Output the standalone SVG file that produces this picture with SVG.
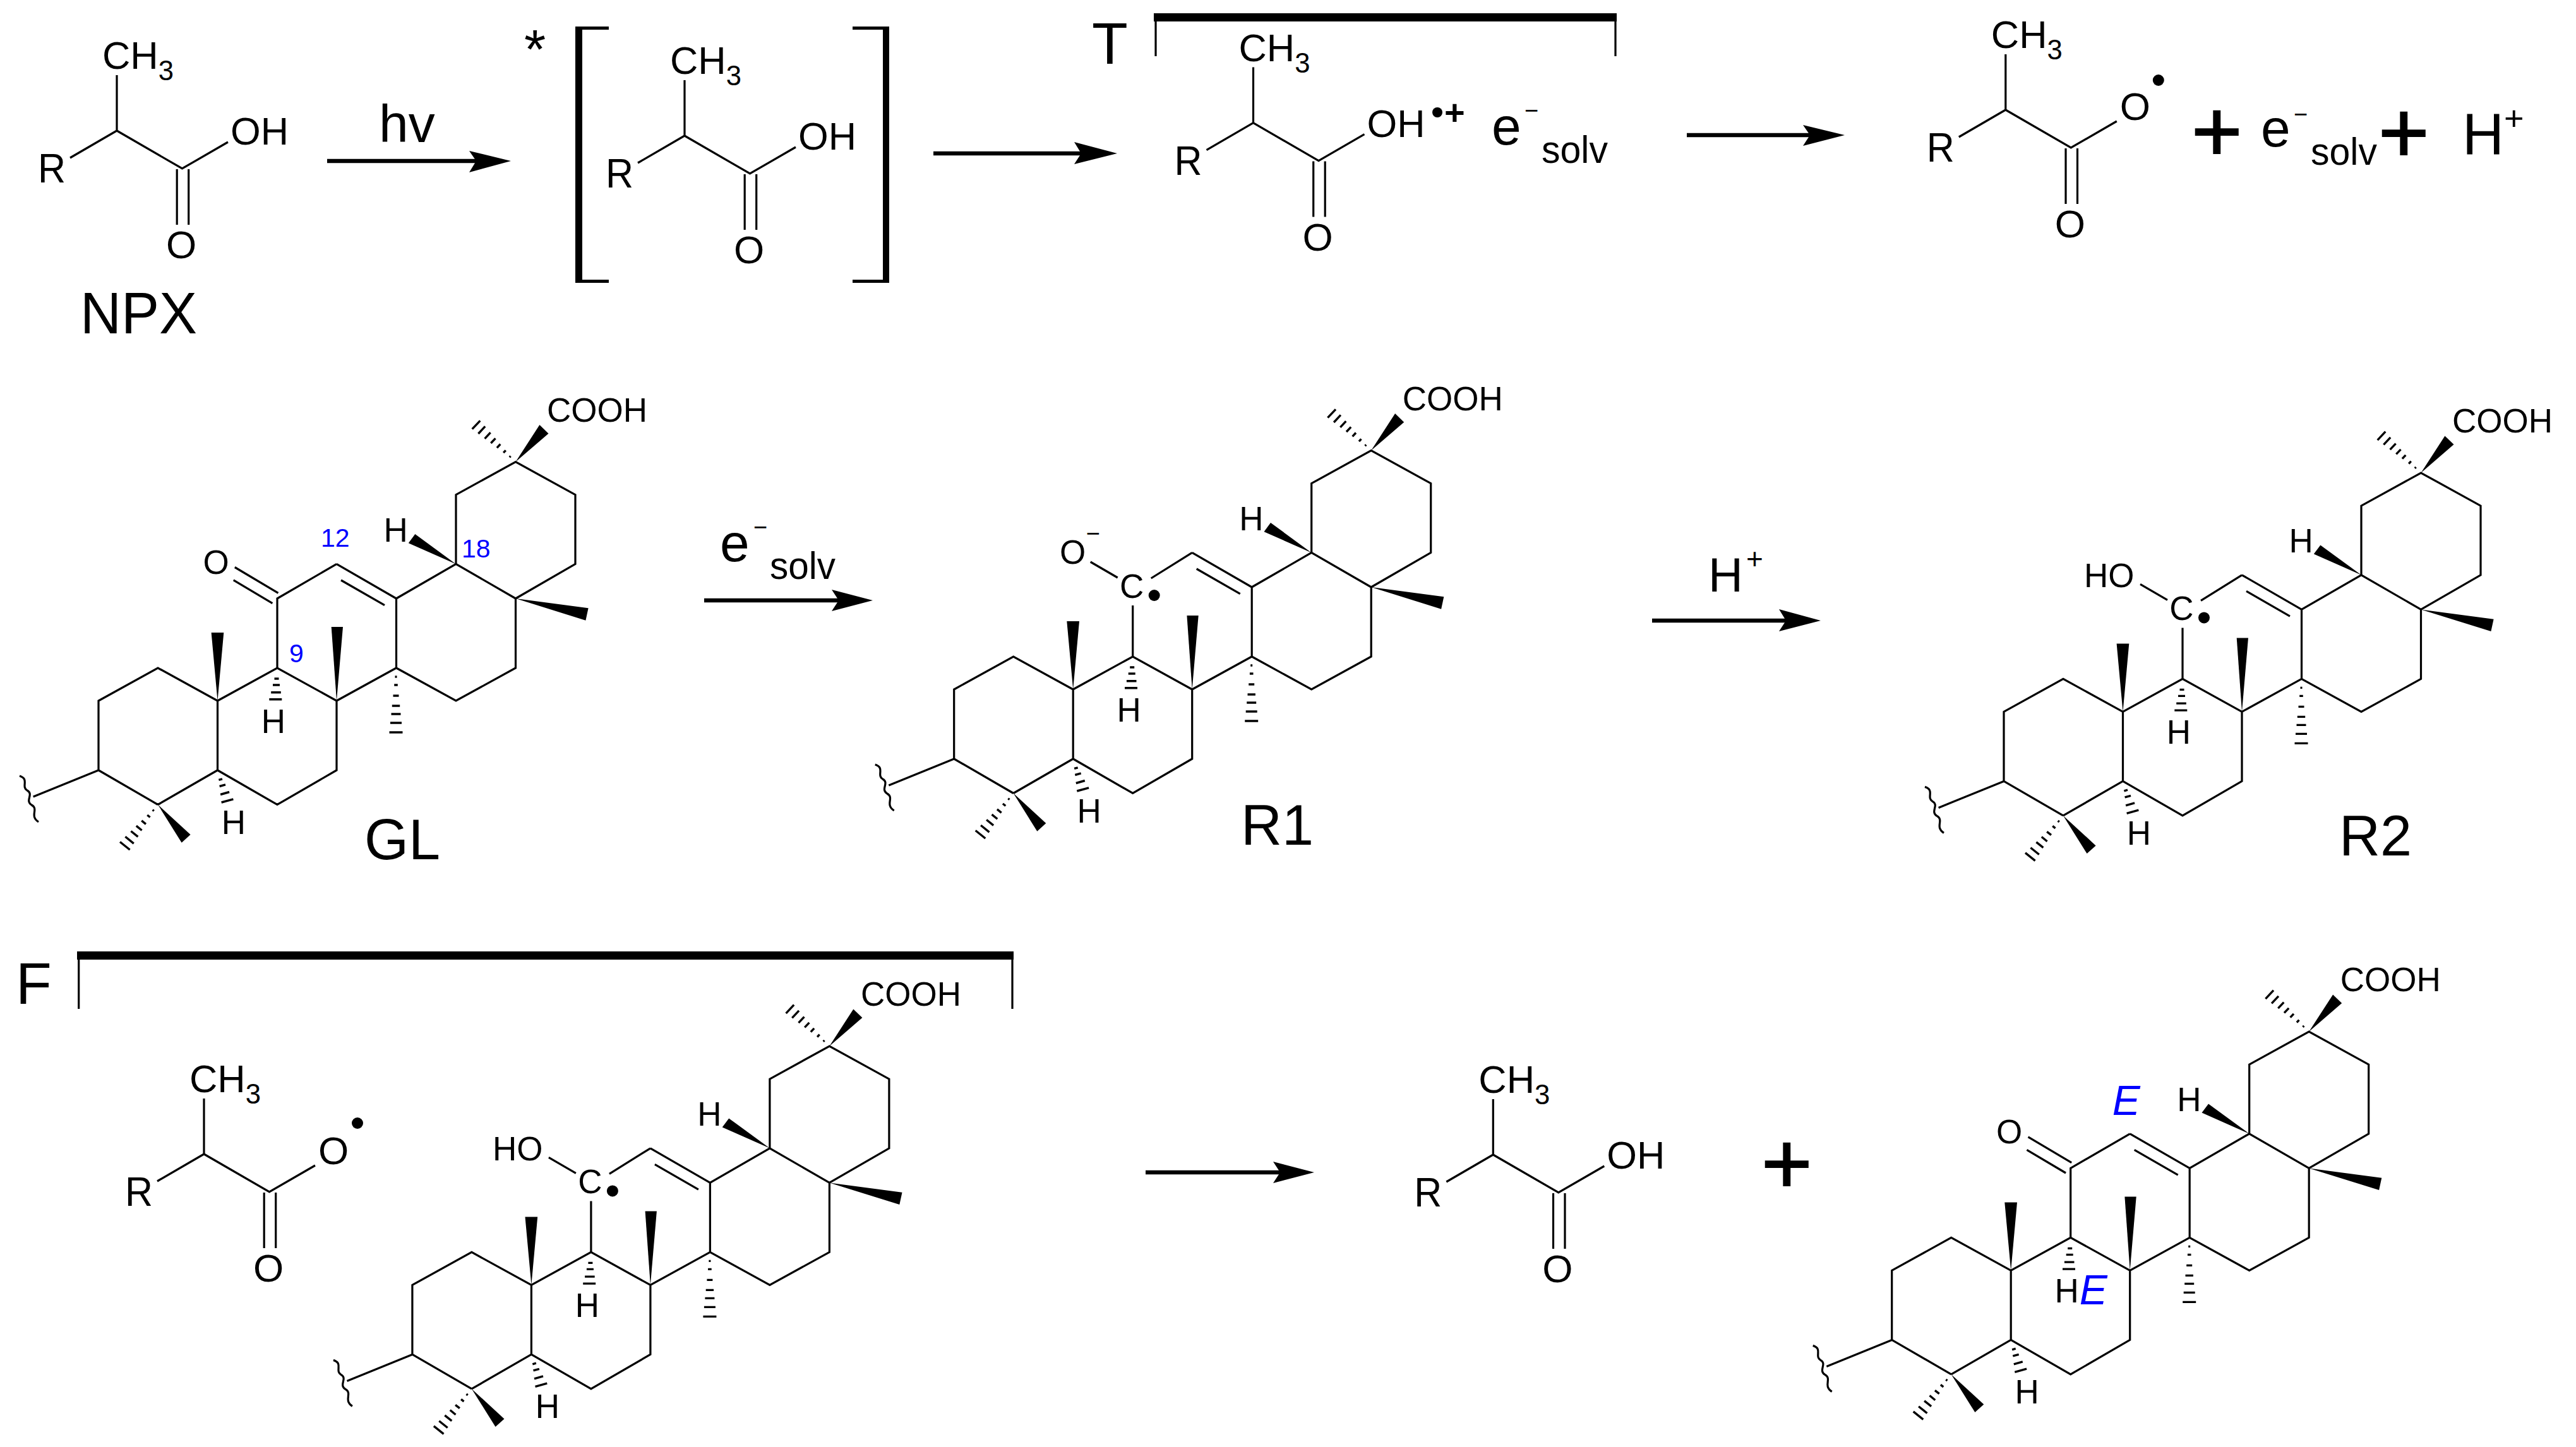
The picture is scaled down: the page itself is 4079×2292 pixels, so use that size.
<svg xmlns="http://www.w3.org/2000/svg" xmlns:xlink="http://www.w3.org/1999/xlink" width="4079" height="2292" viewBox="0 0 4079 2292">
<style>
text{font-family:"Liberation Sans",Arial,sans-serif;fill:#000}
.bond{fill:none;stroke:#000;stroke-width:3.2;stroke-linejoin:miter}
.hash{fill:none;stroke:#000;stroke-width:3.4}
.wedge{fill:#000;stroke:none}
.arrow{fill:none;stroke:#000;stroke-width:6.5}
.head{fill:#000}
.a{font-size:62px}
.r{font-size:65px}
.sub{font-size:44px}
.l{font-size:53px}
.m{text-anchor:middle}
.big{font-size:93px}
.num{font-size:41px;fill:#0000ff}
.iso{font-size:66px;font-style:italic;fill:#0000ff}
.plus{font-size:138px;stroke:#000;stroke-width:2}
.rule{fill:#000}
</style>
<defs>
<g id="acidBonds">
<path class="bond" d="M185,119V207L111,250M185,207L288.500,267L361,225M280.200,268V356M298.700,268V356"/>
</g>
<g id="triBase">
<path class="bond" d="M250,1274.500L156,1220V1110L250,1058L344.500,1110V1220L250,1274.500M344.500,1110L439,1058L533,1110V1220L439,1274.500L344.500,1220M439,1058M533,1110L627.500,1058V948L533,893.400M627.500,948L722,893.400L816.500,948V1058L722,1110L627.500,1058M722,893.400V783.700L816.500,731.600L911,783.700V893.400L816.500,948M540,919L609,958.700"/>
<path class="wedge" d="M816.500,731.600L854.400,673L868.500,686.700Z"/>
<path class="wedge" d="M816.500,948L931.600,963.300L927.400,982.700Z"/>
<path class="wedge" d="M722,893.400L657.300,846L646.800,860.200Z"/>
<path class="wedge" d="M533,1110L524.700,993H543Z"/>
<path class="wedge" d="M344.500,1110L334.600,1002H354.300Z"/>
<path class="wedge" d="M250,1274.500L301.600,1322L287.600,1334.700Z"/>
<path class="hash" d="M806.800,724.300L808.600,722.500M797.200,717.100L800.800,713.300M786.900,709.300L792.300,703.500M777.300,702L784.500,694.400M767.600,694.800L776.600,685.200M757.400,687L768.200,675.400M747.700,679.700L760.300,666.300"/>
<path class="hash" d="M434.500,1075H441.500M432,1085H443M429.200,1096.700H444.800M426.300,1107.700H446.300"/>
<path class="hash" d="M625.500,1072H628.500M624.200,1085H629.800M622.500,1102H631.500M620.800,1118H633.200M619.500,1131H634.500M618,1145H636M616.500,1160H637.500"/>
<path class="hash" d="M346.400,1235.400L352,1233.800M347.600,1245.500L357,1242.900M349.100,1258.500L363.100,1254.500M350.600,1271L369.400,1265.800"/>
<path class="hash" d="M241.600,1282.700L243.800,1284.500M233.200,1291L237.600,1294.500M224.200,1299.900L231,1305.300M215.800,1308.100L224.600,1315.300M207.400,1316.500L218.400,1325.300M198.400,1325.300L211.800,1336.100M190,1333.500L205.600,1346"/>
<path class="bond" d="M156,1220L52.600,1262M31,1229C47,1234 33,1246 43,1252C54,1258 39,1268 50,1275C62,1282 46,1292 61,1302"/>
</g>
<g id="oxoBonds">
<path class="bond" d="M439,1058V948L533,893.400M371.800,898.500L440.500,939.300M369.700,918.900L431.400,955.600"/>
</g>
<g id="radicalBonds">
<path class="bond" d="M439,1058V977M468,934L533,893.400M372,908L415,933"/>
<circle cx="473" cy="961" r="9" fill="#000"/>
</g>
</defs>

<g id="connectors">
<path class="arrow" d="M518,255H760"/><path class="head" d="M809,255L743,239L754,255L743,273Z"/>
<path class="arrow" d="M1478,243H1720"/><path class="head" d="M1769,243L1701,225L1712,243L1701,260Z"/>
<path class="arrow" d="M2671,214H2870"/><path class="head" d="M2921,214L2855,198L2866,214L2855,231Z"/>
<path class="arrow" d="M1115,951H1330"/><path class="head" d="M1382,951L1317,934L1328,951L1317,968Z"/>
<path class="arrow" d="M2616,983H2830"/><path class="head" d="M2883,983L2817,965L2828,983L2817,1000Z"/>
<path class="arrow" d="M1814,1857H2030"/><path class="head" d="M2081,1857L2016,1840L2027,1857L2016,1874Z"/>
</g>

<g id="npx">
<use href="#acidBonds"/>
<text class="a" x="162" y="109" textLength="113" lengthAdjust="spacingAndGlyphs">CH<tspan class="sub" dy="18">3</tspan></text>
<text class="r" x="60" y="289" textLength="44" lengthAdjust="spacingAndGlyphs">R</text>
<text class="a" x="365" y="229" textLength="92" lengthAdjust="spacingAndGlyphs">OH</text>
<text class="a m" x="287" y="409">O</text>
<text class="big" x="127" y="528" textLength="185" lengthAdjust="spacingAndGlyphs">NPX</text>
</g>
<g id="label-hv"><text x="600" y="225" font-size="84">hv</text></g>

<g id="excited">
<path class="rule" d="M911,42H964V47H922V443H964V448H911Z"/>
<path class="rule" d="M1350,42H1408V448H1350V443H1398V47H1350Z"/>
<text x="830" y="108" font-size="88">*</text>
<g transform="translate(899,8)">
<use href="#acidBonds"/>
<text class="a" x="162" y="109" textLength="113" lengthAdjust="spacingAndGlyphs">CH<tspan class="sub" dy="18">3</tspan></text>
<text class="r" x="60" y="289" textLength="44" lengthAdjust="spacingAndGlyphs">R</text>
<text class="a" x="365" y="229" textLength="92" lengthAdjust="spacingAndGlyphs">OH</text>
<text class="a m" x="287" y="409">O</text>
</g>
</g>

<g id="triplet">
<rect class="rule" x="1827" y="21" width="733" height="13"/>
<path class="bond" d="M1830,30V89M2558,30V89"/>
<text class="big" x="1729" y="101">T</text>
<g transform="translate(1799.500,-12.400)">
<use href="#acidBonds"/>
<text class="a" x="162" y="109" textLength="113" lengthAdjust="spacingAndGlyphs">CH<tspan class="sub" dy="18">3</tspan></text>
<text class="r" x="60" y="289" textLength="44" lengthAdjust="spacingAndGlyphs">R</text>
<text class="a" x="365" y="229" textLength="92" lengthAdjust="spacingAndGlyphs">OH</text>
<text class="a m" x="287" y="409">O</text>
</g>
<circle cx="2276" cy="178" r="8"/>
<text x="2287" y="197" font-size="56" font-weight="bold">+</text>
<text x="2362" y="229" font-size="84">e</text>
<text x="2414" y="188" font-size="38">−</text>
<text class="a" x="2441" y="258" textLength="105" lengthAdjust="spacingAndGlyphs">solv</text>
</g>

<g id="phenoxyl">
<g transform="translate(2990.800,-33)">
<use href="#acidBonds"/>
<text class="a" x="162" y="109" textLength="113" lengthAdjust="spacingAndGlyphs">CH<tspan class="sub" dy="18">3</tspan></text>
<text class="r" x="60" y="289" textLength="44" lengthAdjust="spacingAndGlyphs">R</text>
<text class="a m" x="390" y="223">O</text>
<circle cx="427" cy="160" r="9"/>
<text class="a m" x="287" y="409">O</text>
</g>
<text class="plus" x="3470" y="255">+</text>
<text x="3580" y="232" font-size="84">e</text>
<text x="3632" y="194" font-size="38">−</text>
<text class="a" x="3659" y="261" textLength="105" lengthAdjust="spacingAndGlyphs">solv</text>
<text class="plus" x="3766" y="257">+</text>
<text class="big" x="3899" y="245" textLength="66" lengthAdjust="spacingAndGlyphs">H</text>
<text x="3965" y="206" font-size="54">+</text>
</g>

<g id="gl">
<use href="#triBase"/><use href="#oxoBonds"/>
<text class="l m" x="342" y="909">O</text>
<text class="l m" x="626.600" y="857.700">H</text>
<text class="l m" x="433" y="1161">H</text>
<text class="l m" x="370" y="1321">H</text>
<text class="l" x="866" y="668">COOH</text>
<text class="num" x="508" y="866">12</text>
<text class="num" x="731" y="883">18</text>
<text class="num" x="458" y="1049">9</text>
<text x="577" y="1361" font-size="90">GL</text>
</g>

<g id="label-esolv">
<text x="1140" y="889" font-size="84">e</text>
<text x="1193" y="848" font-size="38">−</text>
<text class="a" x="1219" y="917" textLength="104" lengthAdjust="spacingAndGlyphs">solv</text>
</g>

<g id="r1">
<g transform="translate(1354.700,-18)">
<use href="#triBase"/><use href="#radicalBonds"/>
<text class="l m" x="344" y="911">O</text>
<text x="365" y="876" font-size="38">−</text>
<text class="l m" x="437.500" y="965">C</text>
<text class="l m" x="626.600" y="857.700">H</text>
<text class="l m" x="433" y="1161">H</text>
<text class="l m" x="370" y="1321">H</text>
<text class="l" x="866" y="668">COOH</text>
</g>
<text x="1965" y="1338" font-size="90">R1</text>
</g>

<g id="label-hplus">
<text x="2705" y="937" font-size="76">H</text>
<text x="2765" y="901" font-size="46">+</text>
</g>

<g id="r2">
<g transform="translate(3017,17.400)">
<use href="#triBase"/><use href="#radicalBonds"/>
<text class="l" x="283" y="913">HO</text>
<text class="l m" x="437.500" y="965">C</text>
<text class="l m" x="626.600" y="857.700">H</text>
<text class="l m" x="433" y="1161">H</text>
<text class="l m" x="370" y="1321">H</text>
<text class="l" x="866" y="668">COOH</text>
</g>
<text x="3704" y="1355" font-size="90">R2</text>
</g>

<g id="complex">
<rect class="rule" x="122" y="1507" width="1483" height="13"/>
<path class="bond" d="M124.700,1515V1598M1603,1515V1598"/>
<text class="big" x="25" y="1590">F</text>
<g transform="translate(138,1621)">
<use href="#acidBonds"/>
<text class="a" x="162" y="109" textLength="113" lengthAdjust="spacingAndGlyphs">CH<tspan class="sub" dy="18">3</tspan></text>
<text class="r" x="60" y="289" textLength="44" lengthAdjust="spacingAndGlyphs">R</text>
<text class="a m" x="390" y="223">O</text>
<circle cx="428" cy="158" r="9"/>
<text class="a m" x="287" y="409">O</text>
</g>
<g transform="translate(496.900,925.400)">
<use href="#triBase"/><use href="#radicalBonds"/>
<text class="l" x="283" y="913">HO</text>
<text class="l m" x="437.500" y="965">C</text>
<text class="l m" x="626.600" y="857.700">H</text>
<text class="l m" x="433" y="1161">H</text>
<text class="l m" x="370" y="1321">H</text>
<text class="l" x="866" y="668">COOH</text>
</g>
</g>

<g id="acid-product">
<g transform="translate(2179.300,1622)">
<use href="#acidBonds"/>
<text class="a" x="162" y="109" textLength="113" lengthAdjust="spacingAndGlyphs">CH<tspan class="sub" dy="18">3</tspan></text>
<text class="r" x="60" y="289" textLength="44" lengthAdjust="spacingAndGlyphs">R</text>
<text class="a" x="365" y="229" textLength="92" lengthAdjust="spacingAndGlyphs">OH</text>
<text class="a m" x="287" y="409">O</text>
</g>
</g>
<g id="plus-product"><text class="plus" x="2789" y="1890">+</text></g>

<g id="gl-product">
<g transform="translate(2839.700,902.400)">
<use href="#triBase"/><use href="#oxoBonds"/>
<text class="l m" x="342" y="909">O</text>
<text class="l m" x="626.600" y="857.700">H</text>
<text class="l m" x="433" y="1161">H</text>
<text class="l m" x="370" y="1321">H</text>
<text class="l" x="866" y="668">COOH</text>
<text class="iso" x="505" y="864">E</text>
<text class="iso" x="453" y="1164">E</text>
</g>
</g>
</svg>
